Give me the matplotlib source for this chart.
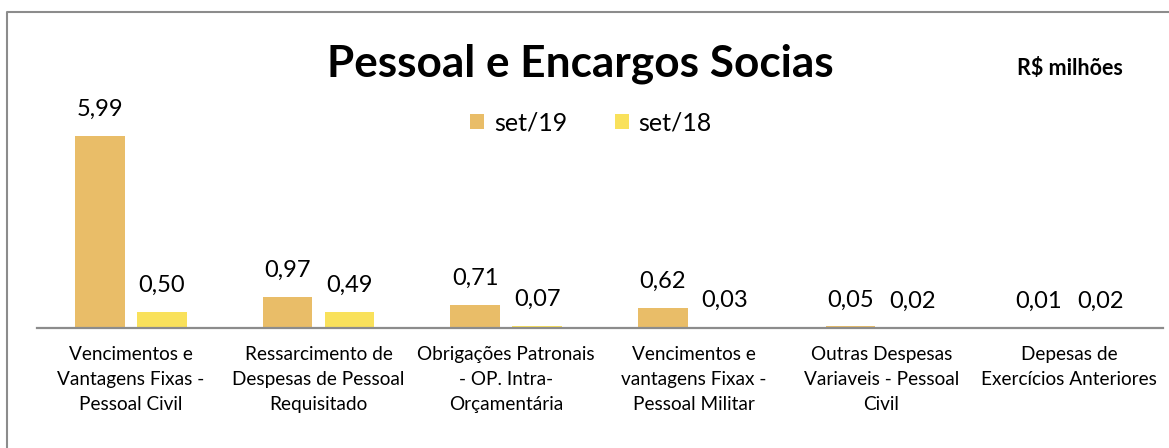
import numpy as np
import matplotlib.pyplot as plt
from matplotlib.lines import Line2D

# dados (R$ milhões)
categorias = ["Vencimentos e\nVantagens Fixas -\nPessoal Civil",
              "Ressarcimento de\nDespesas de Pessoal\nRequisitado",
              "Obrigações Patronais\n- OP. Intra-\nOrçamentária",
              "Vencimentos e\nvantagens Fixax -\nPessoal Militar",
              "Outras Despesas\nVariaveis - Pessoal\nCivil",
              "Depesas de\nExercícios Anteriores"]
set19 = [5.99, 0.97, 0.71, 0.62, 0.05, 0.01]
set18 = [0.50, 0.49, 0.07, 0.03, 0.02, 0.02]
series = ["set/19", "set/18"]

cor19 = "#E9BD68"
cor18 = "#F9E15B"
fonte = "Lato"

W, H = 1169, 448
fig = plt.figure(figsize=(W/100, H/100), dpi=100)

# eixo: baseline em y=328px, de x=37 a 1163
ax = fig.add_axes([37/W, (H-328)/H, 1126/W, 224.7/H])
x = np.arange(len(categorias))
larg = 0.266
sep = 0.064
b1 = ax.bar(x - (larg+sep)/2, set19, larg, color=cor19, label=series[0])
b2 = ax.bar(x + (larg+sep)/2, set18, larg, color=cor18, label=series[1])
ax.set_xlim(-0.5, len(categorias)-0.5)
ax.set_ylim(0, 7)

for barras, vals in [(b1, set19), (b2, set18)]:
	for r, v in zip(barras, vals):
		ax.annotate(f"{v:.2f}".replace(".", ","), xy=(r.get_x()+r.get_width()/2, v),
		            xytext=(0, 20), textcoords="offset pixels", ha="center", va="baseline",
		            fontsize=17, family=fonte, annotation_clip=False)

for s in ["top", "right", "left"]:
	ax.spines[s].set_visible(False)
ax.spines["bottom"].set_color("#8C8C8C")
ax.spines["bottom"].set_linewidth(1.6)
ax.set_yticks([])
ax.set_xticks(x)
ax.set_xticklabels(categorias, fontsize=13.7, family=fonte, linespacing=1.58)
ax.tick_params(axis="x", length=0, pad=13)

fig.text(580/W, (H-77)/H, "Pessoal e Encargos Socias", ha="center", va="baseline",
         fontsize=31.8, fontweight="bold", family=fonte)
fig.text(1070/W, (H-75)/H, "R$ milhões", ha="center", va="baseline",
         fontsize=15.5, fontweight="bold", family=fonte)

fig.legend(loc="center", bbox_to_anchor=(591/W, (H-123)/H), ncol=2, frameon=False,
           prop={"family": fonte, "size": 18}, handlelength=0.55, handleheight=0.55,
           handletextpad=0.4, columnspacing=1.9)

# moldura
fig.add_artist(Line2D([7/W, 7/W, 1], [0, (H-12)/H, (H-12)/H], color="#8C8C8C", lw=1.5,
                      transform=fig.transFigure))

fig.savefig("out.png", dpi=100)
